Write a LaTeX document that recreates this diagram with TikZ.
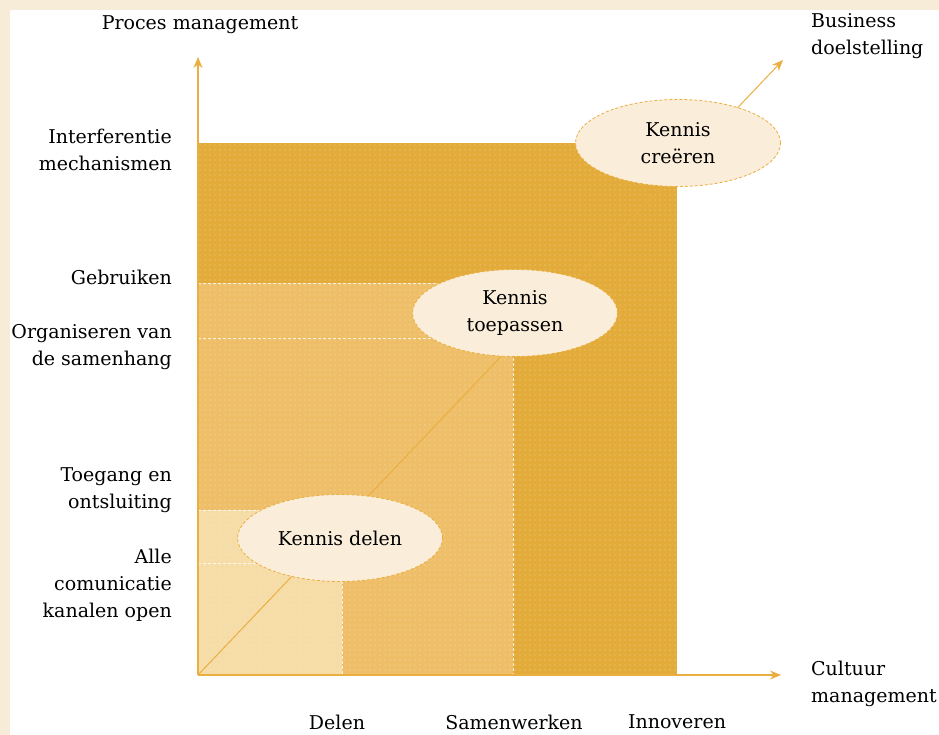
\documentclass[tikz,border=0pt]{standalone}
\usepackage{fontspec}
\setmainfont{DejaVu Serif}
\usetikzlibrary{shapes.geometric,arrows.meta,patterns.meta}

\definecolor{cream}{HTML}{F7ECD8}
\definecolor{darkgold}{HTML}{E3AC3A}
\definecolor{midgold}{HTML}{EEBF68}
\definecolor{lightgold}{HTML}{F6DCA6}
\definecolor{bubble}{HTML}{FAEEDA}
\definecolor{axisgold}{HTML}{EBAE40}

\tikzset{
  lbl/.style={font=\fontsize{19}{27}\selectfont, inner sep=0pt},
  leftlbl/.style={lbl, anchor=east, align=right},
  rightlbl/.style={lbl, anchor=west, align=left},
  bublbl/.style={ellipse, draw=axisgold, densely dashed, line width=0.8pt,
    fill=bubble, minimum width=205pt, minimum height=87pt, inner sep=0pt,
    align=center, font=\fontsize{19}{27}\selectfont},
  axisline/.style={draw=axisgold, line width=1.2pt,
    -{Stealth[length=11pt,width=9pt]}},
  seam/.style={draw=white, densely dashed, line width=1pt, opacity=0.8},
  dotsover/.style={pattern={Dots[radius=0.55pt,distance=5pt]},
    pattern color=white, opacity=0.45},
}

\begin{document}
\begin{tikzpicture}[x=1pt,y=-1pt]
  % page and frame
  \fill[cream] (0,0) rectangle (939,735);
  \fill[white] (10,10) rectangle (939,735);
  \useasboundingbox (0,0) rectangle (939,735);

  % nested maturity areas
  \fill[darkgold]  (198,143) rectangle (677,675);
  \fill[midgold]   (198,283) rectangle (513,675);
  \fill[lightgold] (198,510) rectangle (342,675);
  \fill[dotsover]  (198,143) rectangle (677,675);

  % seams between the areas
  \draw[seam] (198,143) -- (677,143) -- (677,675);
  \draw[seam] (198,283) -- (513,283) -- (513,675);
  \draw[seam] (198,338) -- (513,338);
  \draw[seam] (198,510) -- (342,510) -- (342,675);
  \draw[seam] (198,563) -- (342,563);

  % axes
  \coordinate (O)    at (198,675);
  \coordinate (ytip) at (198,57);
  \coordinate (xtip) at (781,675);
  \coordinate (dtip) at (783,60);
  \draw[axisline] (O) -- (ytip);
  \draw[axisline] (O) -- (xtip);
  \draw[axisline, line width=1pt] (O) -- (dtip);

  % knowledge stages
  \node[bublbl] (delen)  at (340,538) {Kennis delen};
  \node[bublbl] (toep)   at (515,313) {Kennis\\toepassen};
  \node[bublbl] (creeer) at (678,143) {Kennis\\creëren};

  % axis titles
  \node[lbl] (ytitle) at (200,25) {Proces management};
  \node[rightlbl] (dtitle) at (811,36) {Business\\doelstelling};
  \node[rightlbl] (xtitle) at (811,684) {Cultuur\\management};

  % levels on the process axis
  \node[leftlbl] (l1) at (172,150) {Interferentie\\mechanismen};
  \node[leftlbl] (l2) at (172,277) {Gebruiken};
  \node[leftlbl] (l3) at (172,347) {Organiseren van\\de samenhang};
  \node[leftlbl] (l4) at (172,490) {Toegang en\\ontsluiting};
  \node[leftlbl] (l5) at (172,585) {Alle\\comunicatie\\kanalen open};

  % levels on the culture axis
  \node[lbl] (c1) at (337,722) {Delen};
  \node[lbl] (c2) at (514,722) {Samenwerken};
  \node[lbl] (c3) at (677,722) {Innoveren};
\end{tikzpicture}
\end{document}
